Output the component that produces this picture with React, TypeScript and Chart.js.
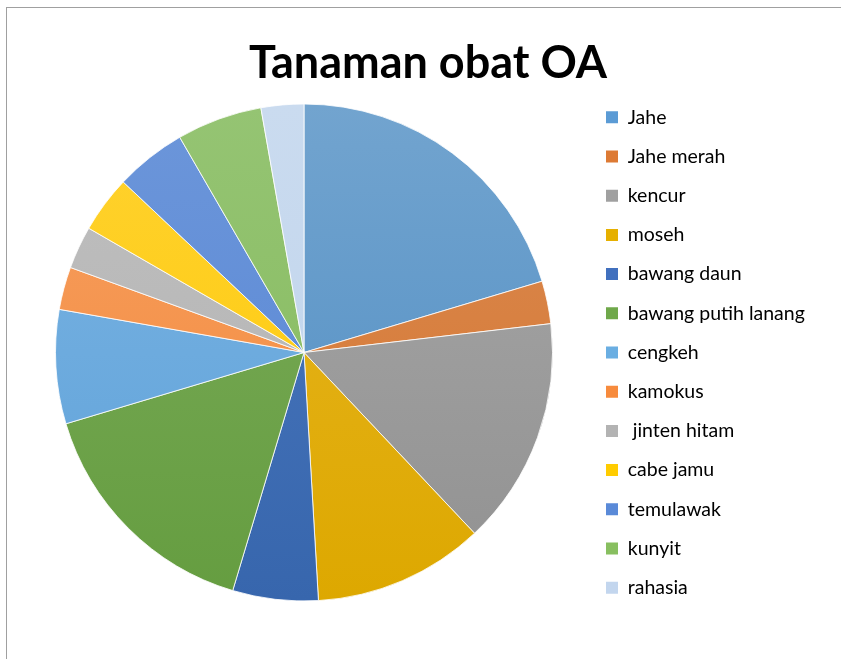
import React, { useEffect, useRef } from "react";
import { Chart, registerables } from "chart.js";

Chart.register(...registerables);

const titleText = "Tanaman obat OA";
const labels = [
  "Jahe",
  "Jahe merah",
  "kencur",
  "moseh",
  "bawang daun",
  "bawang putih lanang",
  "cengkeh",
  "kamokus",
  " jinten hitam",
  "cabe jamu",
  "temulawak",
  "kunyit",
  "rahasia",
];
const values = [22, 3, 16, 12, 6, 17, 8, 3, 3, 4, 5, 6, 3];
const baseColors = [
  "#4F8DC3",
  "#D4752D",
  "#919191",
  "#DDA800",
  "#3766AD",
  "#659D40",
  "#5FA2DA",
  "#F48834",
  "#B2B2B2",
  "#FDC905",
  "#5786D4",
  "#84BA5C",
  "#BED3EC",
];
const topColors = [
  "#72A4CF",
  "#DB8A52",
  "#A8A8A8",
  "#E8B624",
  "#4C79BF",
  "#7CAC5B",
  "#7BB4E2",
  "#F6A065",
  "#BFBFBF",
  "#FFD230",
  "#6C96DA",
  "#95C473",
  "#CADBEF",
];
const legendColors = [
  "#5B9BD5",
  "#DD7A34",
  "#A0A0A0",
  "#E6B000",
  "#4170BE",
  "#6FA84A",
  "#6AAEE2",
  "#F78B3D",
  "#B3B3B3",
  "#FFCC00",
  "#5A8AD8",
  "#88BF60",
  "#C3D6EE",
];

export default function App() {
  const ref = useRef<HTMLCanvasElement | null>(null);

  useEffect(() => {
    if (!ref.current) return;
    const LW = 248;
    const legendWidthPlugin = {
      id: "legendWidth",
      beforeInit(chart: any) {
        const orig = chart.legend.fit;
        chart.legend.fit = function () {
          const mh = this.maxHeight;
          this.maxHeight = 2000;
          orig.call(this);
          this.maxHeight = mh;
          this.width = LW;
          this.height = mh;
        };
      },
    };
    const framePlugin = {
      id: "frame",
      beforeDraw(chart: any) {
        const c = chart.ctx;
        c.save();
        c.fillStyle = "#ffffff";
        c.fillRect(0, 0, chart.width, chart.height);
        c.strokeStyle = "#a0a0a0";
        c.lineWidth = 1;
        c.strokeRect(6.5, 7.5, 1000, 1000);
        c.restore();
      },
    };
    const chart = new Chart(ref.current, {
      type: "pie",
      data: {
        labels,
        datasets: [
          {
            data: values,
            backgroundColor: (ctx: any) => {
              const i = ctx.dataIndex;
              const ch = ctx.chart;
              const area = ch.chartArea;
              if (!area || i === undefined) return baseColors[i ?? 0];
              const g = ch.ctx.createLinearGradient(0, area.top + 18, 0, area.bottom - 18);
              g.addColorStop(0, topColors[i]);
              g.addColorStop(1, baseColors[i]);
              return g;
            },
            borderColor: "rgba(255,255,255,0.8)",
            borderWidth: 1,
            radius: 248.5,
          } as any,
        ],
      },
      options: {
        responsive: false,
        animation: false,
        layout: { padding: { left: 21.7, right: 6.7, top: 0, bottom: 40.1 } },
        plugins: {
          title: {
            display: true,
            text: titleText,
            color: "#000000",
            font: { family: "Lato", size: 45, weight: "bold", lineHeight: 1 },
            padding: { top: 41.1, bottom: 0 },
          },
          legend: {
            display: true,
            position: "right",
            align: "center",
            fullSize: false,
            labels: {
              boxWidth: 12,
              boxHeight: 12,
              padding: 19.7,
              color: "#111111",
              font: { family: "Lato", size: 19.5 },
              generateLabels: () =>
                labels.map((t, i) => ({
                  text: t,
                  fillStyle: legendColors[i],
                  strokeStyle: legendColors[i],
                  lineWidth: 0,
                  hidden: false,
                  index: i,
                })),
            },
          },
          tooltip: { enabled: false },
        },
      },
      plugins: [legendWidthPlugin, framePlugin],
    } as any);
    return () => chart.destroy();
  }, []);

  return (
    <div style={{ position: "absolute", left: 0, top: 0, width: 841, height: 659 }}>
      <canvas ref={ref} width={841} height={659} />
    </div>
  );
}
